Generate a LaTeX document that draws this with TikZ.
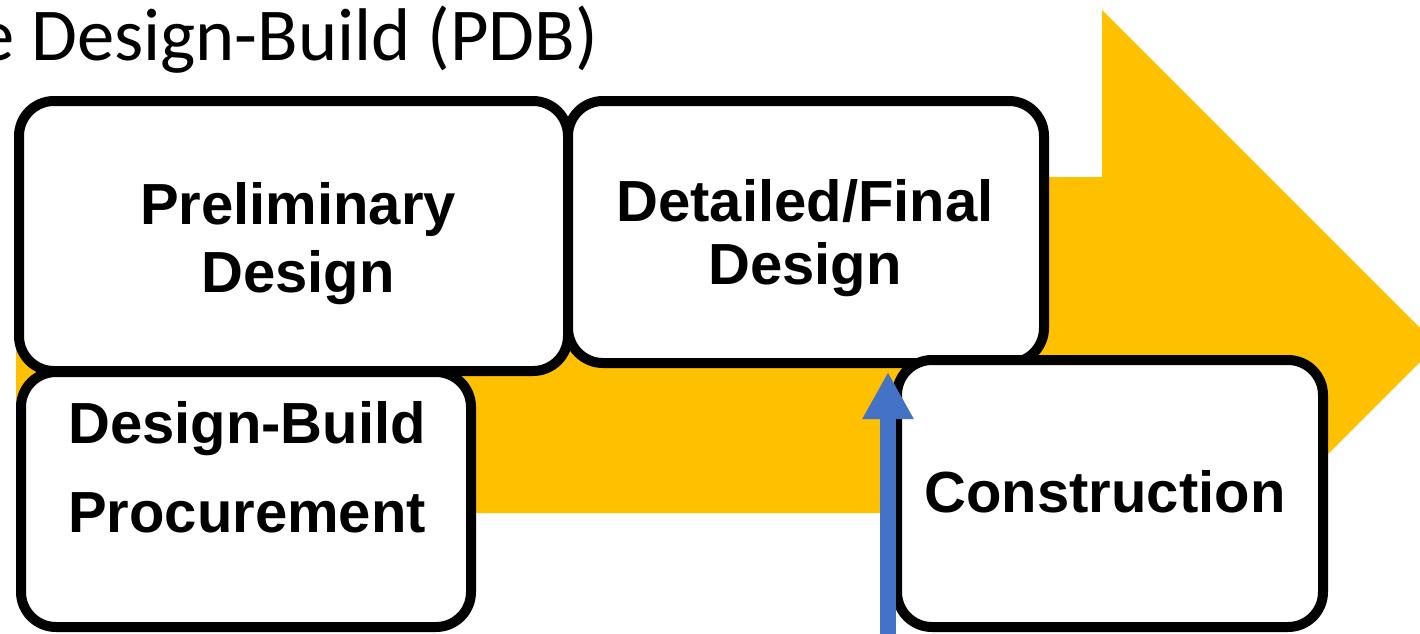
\documentclass[tikz,border=0pt]{standalone}
\usepackage{fontspec}
\setmainfont{Liberation Sans}
\newfontfamily\titlefont{Carlito}
\usetikzlibrary{arrows.meta}
\definecolor{flowgold}{HTML}{FFC000}
\definecolor{markblue}{HTML}{4472C4}

\begin{document}
\begin{tikzpicture}[x=0.5pt,y=-0.5pt,
  stage/.style={draw=black, line width=5pt, fill=white, rounded corners=17.5pt,
                inner sep=0pt, outer sep=0pt},
  stagetext/.style={font=\bfseries\fontsize{29}{34}\selectfont, anchor=base, inner sep=0pt},
]
\useasboundingbox (0,0) rectangle (1420,633);
\clip (0,0) rectangle (1420,633);

% broad process arrow behind the stages
\fill[flowgold] (16,177) -- (1102,177) -- (1102,10) -- (1437,345) -- (1152,630)
  -- (1102,630) -- (1102,513) -- (16,513) -- cycle;

% heading
\node[font=\titlefont\fontsize{37.3}{42}\selectfont, anchor=base west, inner sep=0pt]
  (title) at (-23,60) {e Design-Build (PDB)};

% stage boxes
\node[stage, minimum width=274.5pt, minimum height=135pt] (pd)  at (293.5,236) {};
\node[stage, minimum width=238pt,   minimum height=131pt] (df)  at (806,232) {};
\node[stage, minimum width=225pt,   minimum height=127.5pt] (dbp) at (246,499.5) {};
\node[stage, minimum width=213pt,   minimum height=133.5pt] (con) at (1110,493.5) {};

% stage labels
\node[stagetext] (pd-l1)  at (298,224)  {Preliminary};
\node[stagetext] (pd-l2)  at (298,292)  {Design};
\node[stagetext] (df-l1)  at (805,221)  {Detailed/Final};
\node[stagetext] (df-l2)  at (805,284)  {Design};
\node[stagetext] (dbp-l1) at (247,443)  {Design-Build};
\node[stagetext] (dbp-l2) at (247,532)  {Procurement};
\node[stagetext] (con-l1) at (1105,512) {Construction};

% marker pointing up at the design/construction hand-over
\coordinate (cue-foot) at (888,650);
\coordinate (cue-tip) at (888,372);
\draw[markblue, line width=8pt, -{Triangle[width=24pt,length=23.5pt]}]
  (cue-foot) -- (cue-tip);
\end{tikzpicture}
\end{document}
